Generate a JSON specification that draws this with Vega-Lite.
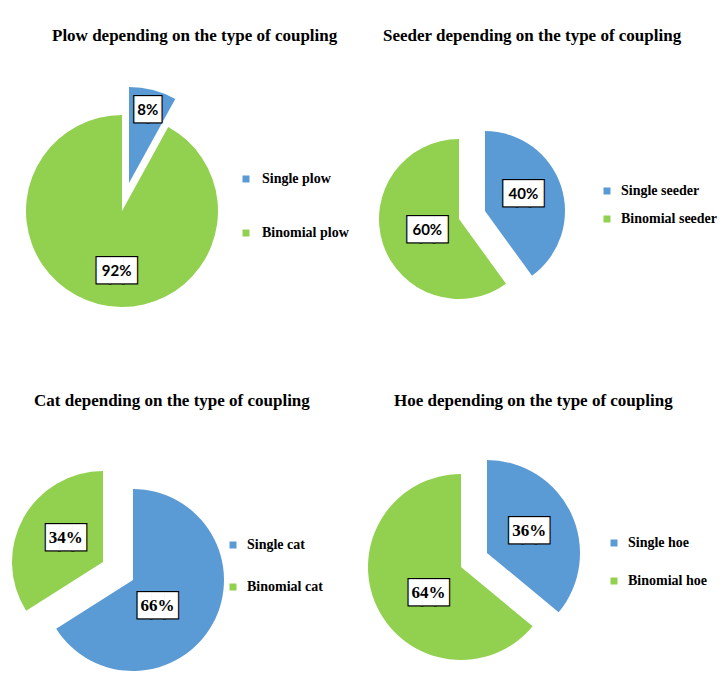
{
  "$schema": "https://vega.github.io/schema/vega-lite/v6.json",
  "background": "white",
  "padding": {"top": 27, "left": 0, "right": 0, "bottom": 0},
  "datasets": {
    "pies": [
      {"panel": "plow", "type": "Single", "label": "Single plow", "share": 8, "pct": "8%", "k": 1},
      {"panel": "plow", "type": "Binomial", "label": "Binomial plow", "share": 92, "pct": "92%", "k": 2},
      {"panel": "seeder", "type": "Single", "label": "Single seeder", "share": 40, "pct": "40%", "k": 1},
      {"panel": "seeder", "type": "Binomial", "label": "Binomial seeder", "share": 60, "pct": "60%", "k": 2},
      {"panel": "cat", "type": "Single", "label": "Single cat", "share": 66, "pct": "66%", "k": 1},
      {"panel": "cat", "type": "Binomial", "label": "Binomial cat", "share": 34, "pct": "34%", "k": 2},
      {"panel": "hoe", "type": "Single", "label": "Single hoe", "share": 36, "pct": "36%", "k": 1},
      {"panel": "hoe", "type": "Binomial", "label": "Binomial hoe", "share": 64, "pct": "64%", "k": 2}
    ]
  },
  "columns": 2,
  "bounds": "flush",
  "align": "each",
  "spacing": {"row": 89, "column": 118},
  "concat": [
    {
      "title": {"text": "Plow depending on the type of coupling", "dx": 52, "offset": 16},
      "width": 244, "height": 300,
      "data": {"name": "pies"},
      "transform": [{"filter": "datum.panel == 'plow'"}],
      "encoding": {
        "theta": {"field": "share", "type": "quantitative", "stack": true},
        "order": {"field": "k", "type": "quantitative"},
        "color": {"field": "label", "type": "nominal", "scale": {"domain": ["Single plow", "Binomial plow"], "range": ["#5B9BD5", "#92D050"]},
          "legend": {"orient": "none", "legendX": 239, "legendY": 111, "rowPadding": 40, "labelOffset": 9}}
      },
      "layer": [
        {"mark": {"type": "arc", "outerRadius": 96, "xOffset": 7, "yOffset": -28},
         "encoding": {"opacity": {"condition": {"test": "datum.type == 'Single'", "value": 1}, "value": 0}}},
        {"mark": {"type": "arc", "outerRadius": 96},
         "encoding": {"opacity": {"condition": {"test": "datum.type == 'Binomial'", "value": 1}, "value": 0}}},
        {"mark": {"type": "text", "radius": 104, "font": "DejaVu Sans Mono", "fontSize": 22, "stroke": "black", "strokeWidth": 2.5},
         "encoding": {"text": {"value": "██"}, "color": {"value": "black"}, "opacity": {"condition": {"test": "datum.type == 'Single'", "value": 1}, "value": 0}}},
        {"mark": {"type": "text", "radius": 62, "dx": 10, "font": "DejaVu Sans Mono", "fontSize": 22, "stroke": "black", "strokeWidth": 2.5},
         "encoding": {"text": {"value": "███"}, "color": {"value": "black"}, "opacity": {"condition": {"test": "datum.type == 'Binomial'", "value": 1}, "value": 0}}},
        {"mark": {"type": "text", "radius": 104, "font": "DejaVu Sans Mono", "fontSize": 22},
         "encoding": {"text": {"value": "██"}, "color": {"value": "white"}, "opacity": {"condition": {"test": "datum.type == 'Single'", "value": 1}, "value": 0}}},
        {"mark": {"type": "text", "radius": 62, "dx": 10, "font": "DejaVu Sans Mono", "fontSize": 22},
         "encoding": {"text": {"value": "███"}, "color": {"value": "white"}, "opacity": {"condition": {"test": "datum.type == 'Binomial'", "value": 1}, "value": 0}}},
        {"mark": {"type": "text", "radius": 104, "font": "Lato", "fontSize": 15, "fontWeight": "bold"},
         "encoding": {"text": {"field": "pct"}, "color": {"value": "black"}, "opacity": {"condition": {"test": "datum.type == 'Single'", "value": 1}, "value": 0}}},
        {"mark": {"type": "text", "radius": 62, "dx": 10, "font": "Lato", "fontSize": 15, "fontWeight": "bold"},
         "encoding": {"text": {"field": "pct"}, "color": {"value": "black"}, "opacity": {"condition": {"test": "datum.type == 'Binomial'", "value": 1}, "value": 0}}}
      ]
    },
    {
      "title": {"text": "Seeder depending on the type of coupling", "dx": 21, "offset": 16},
      "width": 220, "height": 308,
      "data": {"name": "pies"},
      "transform": [{"filter": "datum.panel == 'seeder'"}],
      "encoding": {
        "theta": {"field": "share", "type": "quantitative", "stack": true},
        "order": {"field": "k", "type": "quantitative"},
        "color": {"field": "label", "type": "nominal", "scale": {"domain": ["Single seeder", "Binomial seeder"], "range": ["#5B9BD5", "#92D050"]},
          "legend": {"orient": "none", "legendX": 238, "legendY": 123, "rowPadding": 14, "labelOffset": 7}}
      },
      "layer": [
        {"mark": {"type": "arc", "outerRadius": 80, "xOffset": 13, "yOffset": -4},
         "encoding": {"opacity": {"condition": {"test": "datum.type == 'Single'", "value": 1}, "value": 0}}},
        {"mark": {"type": "arc", "outerRadius": 80, "xOffset": -13, "yOffset": 4},
         "encoding": {"opacity": {"condition": {"test": "datum.type == 'Binomial'", "value": 1}, "value": 0}}},
        {"mark": {"type": "text", "radius": 54, "dy": -4, "font": "DejaVu Sans Mono", "fontSize": 22, "stroke": "black", "strokeWidth": 2.5},
         "encoding": {"text": {"value": "███"}, "color": {"value": "black"}, "opacity": {"condition": {"test": "datum.type == 'Single'", "value": 1}, "value": 0}}},
        {"mark": {"type": "text", "radius": 47, "font": "DejaVu Sans Mono", "fontSize": 22, "stroke": "black", "strokeWidth": 2.5},
         "encoding": {"text": {"value": "███"}, "color": {"value": "black"}, "opacity": {"condition": {"test": "datum.type == 'Binomial'", "value": 1}, "value": 0}}},
        {"mark": {"type": "text", "radius": 54, "dy": -4, "font": "DejaVu Sans Mono", "fontSize": 22},
         "encoding": {"text": {"value": "███"}, "color": {"value": "white"}, "opacity": {"condition": {"test": "datum.type == 'Single'", "value": 1}, "value": 0}}},
        {"mark": {"type": "text", "radius": 47, "font": "DejaVu Sans Mono", "fontSize": 22},
         "encoding": {"text": {"value": "███"}, "color": {"value": "white"}, "opacity": {"condition": {"test": "datum.type == 'Binomial'", "value": 1}, "value": 0}}},
        {"mark": {"type": "text", "radius": 54, "dy": -4, "font": "Lato", "fontSize": 15, "fontWeight": "bold"},
         "encoding": {"text": {"field": "pct"}, "color": {"value": "black"}, "opacity": {"condition": {"test": "datum.type == 'Single'", "value": 1}, "value": 0}}},
        {"mark": {"type": "text", "radius": 47, "font": "Lato", "fontSize": 15, "fontWeight": "bold"},
         "encoding": {"text": {"field": "pct"}, "color": {"value": "black"}, "opacity": {"condition": {"test": "datum.type == 'Binomial'", "value": 1}, "value": 0}}}
      ]
    },
    {
      "title": {"text": "Cat depending on the type of coupling", "dx": 34, "offset": 48},
      "width": 236, "height": 226,
      "data": {"name": "pies"},
      "transform": [{"filter": "datum.panel == 'cat'"}],
      "encoding": {
        "theta": {"field": "share", "type": "quantitative", "stack": true},
        "order": {"field": "k", "type": "quantitative"},
        "color": {"field": "label", "type": "nominal", "scale": {"domain": ["Single cat", "Binomial cat"], "range": ["#5B9BD5", "#92D050"]},
          "legend": {"orient": "none", "legendX": 226, "legendY": 80, "rowPadding": 28, "labelOffset": 7}}
      },
      "layer": [
        {"mark": {"type": "arc", "outerRadius": 91, "xOffset": 15, "yOffset": 9},
         "encoding": {"opacity": {"condition": {"test": "datum.type == 'Single'", "value": 1}, "value": 0}}},
        {"mark": {"type": "arc", "outerRadius": 91, "xOffset": -15, "yOffset": -9},
         "encoding": {"opacity": {"condition": {"test": "datum.type == 'Binomial'", "value": 1}, "value": 0}}},
        {"mark": {"type": "text", "radius": 52, "dx": -6, "dy": 10, "font": "DejaVu Sans Mono", "fontSize": 22, "stroke": "black", "strokeWidth": 2.5},
         "encoding": {"text": {"value": "███"}, "color": {"value": "black"}, "opacity": {"condition": {"test": "datum.type == 'Single'", "value": 1}, "value": 0}}},
        {"mark": {"type": "text", "radius": 63, "dx": 3, "dy": -3, "font": "DejaVu Sans Mono", "fontSize": 22, "stroke": "black", "strokeWidth": 2.5},
         "encoding": {"text": {"value": "███"}, "color": {"value": "black"}, "opacity": {"condition": {"test": "datum.type == 'Binomial'", "value": 1}, "value": 0}}},
        {"mark": {"type": "text", "radius": 52, "dx": -6, "dy": 10, "font": "DejaVu Sans Mono", "fontSize": 22},
         "encoding": {"text": {"value": "███"}, "color": {"value": "white"}, "opacity": {"condition": {"test": "datum.type == 'Single'", "value": 1}, "value": 0}}},
        {"mark": {"type": "text", "radius": 63, "dx": 3, "dy": -3, "font": "DejaVu Sans Mono", "fontSize": 22},
         "encoding": {"text": {"value": "███"}, "color": {"value": "white"}, "opacity": {"condition": {"test": "datum.type == 'Binomial'", "value": 1}, "value": 0}}},
        {"mark": {"type": "text", "radius": 52, "dx": -6, "dy": 10, "font": "Liberation Serif", "fontSize": 17, "fontWeight": "bold"},
         "encoding": {"text": {"field": "pct"}, "color": {"value": "black"}, "opacity": {"condition": {"test": "datum.type == 'Single'", "value": 1}, "value": 0}}},
        {"mark": {"type": "text", "radius": 63, "dx": 3, "dy": -3, "font": "Liberation Serif", "fontSize": 17, "fontWeight": "bold"},
         "encoding": {"text": {"field": "pct"}, "color": {"value": "black"}, "opacity": {"condition": {"test": "datum.type == 'Binomial'", "value": 1}, "value": 0}}}
      ]
    },
    {
      "title": {"text": "Hoe depending on the type of coupling", "dx": 32, "offset": 48},
      "width": 224, "height": 204,
      "data": {"name": "pies"},
      "transform": [{"filter": "datum.panel == 'hoe'"}],
      "encoding": {
        "theta": {"field": "share", "type": "quantitative", "stack": true},
        "order": {"field": "k", "type": "quantitative"},
        "color": {"field": "label", "type": "nominal", "scale": {"domain": ["Single hoe", "Binomial hoe"], "range": ["#5B9BD5", "#92D050"]},
          "legend": {"orient": "none", "legendX": 245, "legendY": 78, "rowPadding": 24, "labelOffset": 7}}
      },
      "layer": [
        {"mark": {"type": "arc", "outerRadius": 93, "xOffset": 13, "yOffset": -7},
         "encoding": {"opacity": {"condition": {"test": "datum.type == 'Single'", "value": 1}, "value": 0}}},
        {"mark": {"type": "arc", "outerRadius": 93, "xOffset": -13, "yOffset": 7},
         "encoding": {"opacity": {"condition": {"test": "datum.type == 'Binomial'", "value": 1}, "value": 0}}},
        {"mark": {"type": "text", "radius": 61, "dy": -3, "font": "DejaVu Sans Mono", "fontSize": 22, "stroke": "black", "strokeWidth": 2.5},
         "encoding": {"text": {"value": "███"}, "color": {"value": "black"}, "opacity": {"condition": {"test": "datum.type == 'Single'", "value": 1}, "value": 0}}},
        {"mark": {"type": "text", "radius": 58, "dx": 7, "dy": 8, "font": "DejaVu Sans Mono", "fontSize": 22, "stroke": "black", "strokeWidth": 2.5},
         "encoding": {"text": {"value": "███"}, "color": {"value": "black"}, "opacity": {"condition": {"test": "datum.type == 'Binomial'", "value": 1}, "value": 0}}},
        {"mark": {"type": "text", "radius": 61, "dy": -3, "font": "DejaVu Sans Mono", "fontSize": 22},
         "encoding": {"text": {"value": "███"}, "color": {"value": "white"}, "opacity": {"condition": {"test": "datum.type == 'Single'", "value": 1}, "value": 0}}},
        {"mark": {"type": "text", "radius": 58, "dx": 7, "dy": 8, "font": "DejaVu Sans Mono", "fontSize": 22},
         "encoding": {"text": {"value": "███"}, "color": {"value": "white"}, "opacity": {"condition": {"test": "datum.type == 'Binomial'", "value": 1}, "value": 0}}},
        {"mark": {"type": "text", "radius": 61, "dy": -3, "font": "Liberation Serif", "fontSize": 17, "fontWeight": "bold"},
         "encoding": {"text": {"field": "pct"}, "color": {"value": "black"}, "opacity": {"condition": {"test": "datum.type == 'Single'", "value": 1}, "value": 0}}},
        {"mark": {"type": "text", "radius": 58, "dx": 7, "dy": 8, "font": "Liberation Serif", "fontSize": 17, "fontWeight": "bold"},
         "encoding": {"text": {"field": "pct"}, "color": {"value": "black"}, "opacity": {"condition": {"test": "datum.type == 'Binomial'", "value": 1}, "value": 0}}}
      ]
    }
  ],
  "resolve": {"scale": {"color": "independent", "theta": "independent"}, "legend": {"color": "independent"}},
  "config": {
    "view": {"stroke": null, "fill": "white"},
    "arc": {"stroke": null},
    "text": {"baseline": "middle", "align": "center"},
    "title": {"font": "Liberation Serif", "fontSize": 17, "fontWeight": "bold", "color": "black", "anchor": "start", "frame": "group"},
    "legend": {"title": null, "symbolType": "square", "symbolSize": 49, "symbolStrokeWidth": 0, "labelFont": "Liberation Serif", "labelFontSize": 14, "labelFontWeight": "bold", "labelColor": "black", "labelLimit": 200}
  }
}
